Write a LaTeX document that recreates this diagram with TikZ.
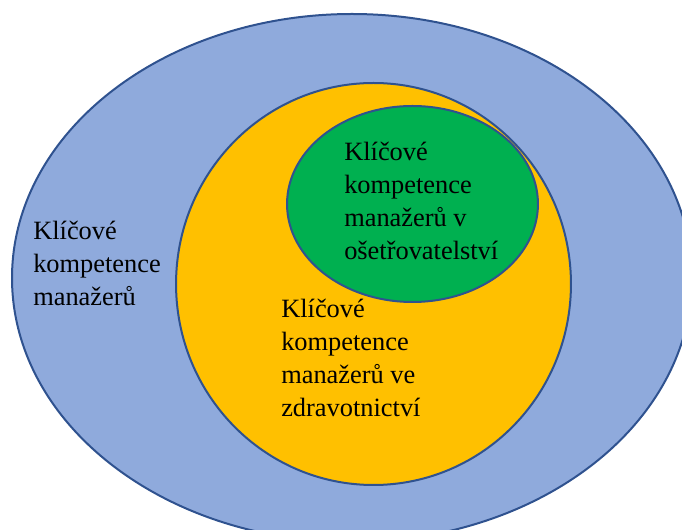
\documentclass[tikz,border=0pt]{standalone}
\usepackage{fontspec}
\setmainfont{Liberation Serif}
\usepackage{xcolor}
\usepackage{tikz}
\usetikzlibrary{positioning}

\definecolor{ringblue}{HTML}{8FAADC}
\definecolor{ringorange}{HTML}{FFC000}
\definecolor{ringgreen}{HTML}{00B050}
\definecolor{rimblue}{HTML}{2F528F}

\begin{document}
\begin{tikzpicture}[x=0.75pt, y=-0.75pt,
    rim/.style={draw=rimblue, line width=1.5pt},
    label/.style={anchor=base west, align=left, inner sep=0pt,
      font=\fontsize{19.8}{24.75}\selectfont}]
    % Frame of the picture
    \useasboundingbox (0,0) rectangle (682,530);
    \clip (0,0) rectangle (682,530);

    % Outer ellipse
    \fill[ringblue] (352,278) ellipse [x radius=255pt, y radius=198pt];
    \draw[rim] (352,278) ellipse [x radius=255pt, y radius=198pt];

    % Middle ellipse
    \fill[ringorange] (373.5,284) ellipse [x radius=148.1pt, y radius=150.75pt];
    \draw[rim] (373.5,284) ellipse [x radius=148.1pt, y radius=150.75pt];

    % Inner ellipse
    \fill[ringgreen] (412.5,204) ellipse [x radius=94.1pt, y radius=73.5pt];
    \draw[rim] (412.5,204) ellipse [x radius=94.1pt, y radius=73.5pt];

    % Labels (base = last line)
    \node[label] (managers) at (33,306) {Klíčové\\kompetence\\manažerů};
    \node[label] (health) at (281,417) {Klíčové\\kompetence\\manažerů ve\\zdravotnictví};
    \node[label] (nursing) at (344,260) {Klíčové\\kompetence\\manažerů v\\ošetřovatelství};
\end{tikzpicture}
\end{document}
